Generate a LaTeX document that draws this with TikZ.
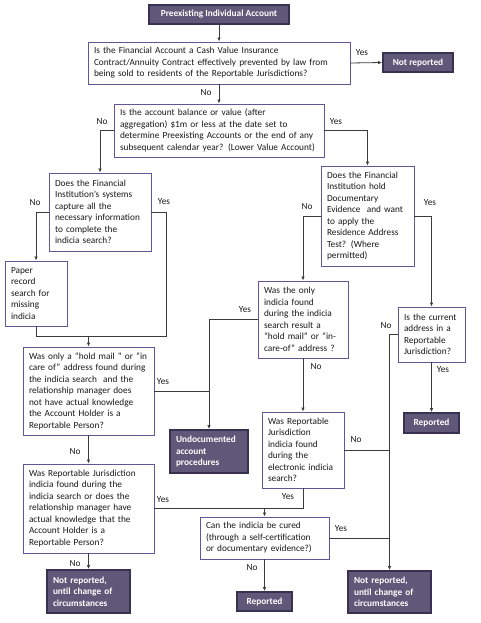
\documentclass[tikz,border=0pt]{standalone}
\usepackage{fontspec}
\setmainfont{Carlito}
\usetikzlibrary{arrows.meta}
\definecolor{qborder}{RGB}{100,85,150}
\definecolor{dfill}{RGB}{96,88,120}
\definecolor{dborder}{RGB}{58,48,80}
\definecolor{lnc}{RGB}{60,60,60}
\tikzset{
  qb/.style={draw=qborder, line width=0.9pt, fill=white, align=left, inner xsep=6pt, inner ysep=1pt,
    font=\fontsize{9.3}{11.5}\selectfont, text=black!90},
  db/.style={draw=dborder, line width=1.8pt, fill=dfill, align=left, inner xsep=6pt, inner ysep=1pt,
    font=\fontsize{9.3}{11.5}\selectfont\bfseries, text=white},
  ln/.style={draw=lnc, line width=0.8pt},
  ar/.style={ln, -{Latex[length=4pt,width=3.5pt]}},
  lb/.style={font=\fontsize{9.3}{10}\selectfont, text=black!90, inner sep=1pt}
}
\begin{document}
\begin{tikzpicture}[x=1pt,y=-1pt]
\useasboundingbox (0,0) rectangle (480,623);
% nodes
\node[db, minimum width=140pt, minimum height=19pt, align=center] (start) at (219,14.5) {Preexisting Individual Account};
\node[qb, text width=250pt, minimum height=42pt] (q1) at (219,63) {Is the Financial Account a Cash Value Insurance\\Contract/Annuity Contract effectively prevented by law from\\being sold to residents of the Reportable Jurisdictions?};
\node[db, minimum width=70pt, minimum height=19pt, align=center] (nr0) at (418,62.5) {Not reported};
\node[qb, text width=198pt, minimum height=53pt] (q2) at (219,130.5) {Is the account balance or value (after\\aggregation) \$1m or less at the date set to\\determine Preexisting Accounts or the end of any\\subsequent calendar year? (Lower Value Account)};
\node[qb, text width=90pt, minimum height=78pt] (q3) at (100,212) {Does the Financial\\Institution's systems\\capture all the\\necessary information\\to complete the\\indicia search?};
\node[qb, text width=81pt, minimum height=100pt] (q4) at (367.5,216) {Does the Financial\\Institution hold\\Documentary\\Evidence~ and want\\to apply the\\Residence Address\\Test? (Where\\permitted)};
\node[qb, text width=50pt, minimum height=65pt] (paper) at (36,293.5) {Paper\\record\\search for\\missing\\indicia};
\node[qb, text width=119pt, minimum height=88pt] (q5) at (88.5,391) {Was only a ``hold mail~'' or ``in\\care of'' address found during\\the indicia search~ and the\\relationship manager does\\not have actual knowledge\\the Account Holder is a\\Reportable Person?};
\node[qb, text width=78pt, minimum height=77pt] (q6) at (303,319.5) {Was the only\\indicia found\\during the indicia\\search result a\\``hold mail'' or ``in-\\care-of'' address ?};
\node[qb, text width=55pt, minimum height=55pt] (q7) at (431.5,334.5) {Is the current\\address in a\\Reportable\\Jurisdiction?};
\node[db, minimum width=55pt, minimum height=20pt, align=center] (rep1) at (431.5,423) {Reported};
\node[db, text width=66pt, minimum height=43pt] (undoc) at (209,451.5) {Undocumented\\account\\procedures};
\node[qb, text width=70pt, minimum height=76pt] (q8) at (303,450) {Was Reportable\\Jurisdiction\\indicia found\\during the\\electronic indicia\\search?};
\node[qb, text width=119pt, minimum height=89pt] (q10) at (88.5,508.5) {Was Reportable Jurisdiction\\indicia found during the\\indicia search or does the\\relationship manager have\\actual knowledge that the\\Account Holder is a\\Reportable Person?};
\node[qb, text width=117pt, minimum height=42pt] (q9) at (264.5,538) {Can the indicia be cured\\(through a self-certification\\or documentary evidence?)};
\node[db, minimum width=55pt, minimum height=19pt, align=center] (rep2) at (264.5,601.5) {Reported};
\node[db, text width=71pt, minimum height=43pt] (nr1) at (88.5,591.5) {Not reported,\\until change of\\circumstances};
\node[db, text width=71pt, minimum height=42pt] (nr2) at (389.5,592) {Not reported,\\until change of\\circumstances};
% junction coordinates
\coordinate (j1) at (88.5,336);
\coordinate (c1) at (166.5,336);
\coordinate (j2) at (208.5,391);
\coordinate (j3) at (389.5,450);
\coordinate (j4) at (389.5,538);
\coordinate (j5) at (264.5,508);
\coordinate (c5) at (303,508);
% connectors
\draw[ar] (start) -- (q1);
\draw[ar] (q1.east) -- (nr0.west);
\node[lb] (l1) at (362,53) {Yes};
\draw[ar] (q1) -- (q2);
\node[lb] (l2) at (206,93) {No};
\draw[ar] (q2.west) -| (q3.north);
\node[lb] (l3) at (102,122) {No};
\draw[ar] (q2.east) -| (q4.north);
\node[lb] (l4) at (336,122) {Yes};
\draw[ar] (q3.west) -| (paper.north);
\node[lb] (l5) at (35,203) {No};
\draw[ln] (q3.east) -| (c1) -- (j1);
\node[lb] (l6) at (164,202) {Yes};
\draw[ln] (paper.south) |- (j1);
\draw[ar] (j1) -- (q5.north);
\draw[ar] (q6.west) -| (undoc.north);
\node[lb] (l7) at (245,310) {Yes};
\draw[ln] (q5.east) -- (j2);
\node[lb] (l8) at (163,382) {Yes};
\draw[ar] (q4.west) -| (q6.north);
\node[lb] (l9) at (307,207) {No};
\draw[ar] (q4.east) -| (q7.north);
\node[lb] (l10) at (430,203) {Yes};
\draw[ar] (q7) -- (rep1);
\node[lb] (l11) at (443,370) {Yes};
\draw[ar] (q6) -- (q8);
\node[lb] (l12) at (316,367) {No};
\draw[ar] (q7.west) -| (nr2.north);
\node[lb] (l13) at (386,326) {No};
\draw[ln] (q8.east) -- (j3);
\node[lb] (l14) at (356,440) {No};
\draw[ln] (q8.south) -- (c5) -- (j5);
\node[lb] (l15) at (288,497) {Yes};
\draw[ln] (q10.east |- j5) -- (j5);
\node[lb] (l16) at (163,500) {Yes};
\draw[ar] (j5) -- (q9.north);
\draw[ln] (q9.east) -- (j4);
\node[lb] (l17) at (341,529) {Yes};
\draw[ar] (q9) -- (rep2);
\node[lb] (l18) at (252,568) {No};
\draw[ar] (q5) -- (q10);
\node[lb] (l19) at (75,452) {No};
\draw[ar] (q10) -- (nr1);
\node[lb] (l20) at (75,564) {No};
\end{tikzpicture}
\end{document}
